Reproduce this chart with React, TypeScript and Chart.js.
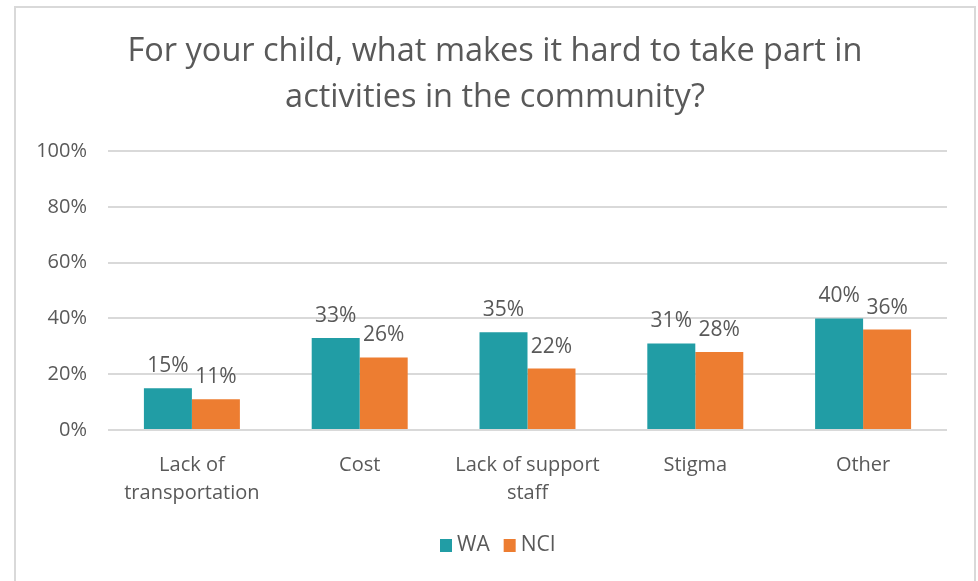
import React, { useEffect, useRef } from "react";
import { Chart, registerables } from "chart.js";

Chart.register(...registerables);

const titleLines = [
  "For your child, what makes it hard to take part in",
  "activities in the community?",
];
const categories = [
  ["Lack of", "transportation"],
  "Cost",
  ["Lack of support", "staff"],
  "Stigma",
  "Other",
];
const seriesNames = ["WA", "NCI"];
const waValues = [15, 33, 35, 31, 40];
const nciValues = [11, 26, 22, 28, 36];
const yMin = 0;
const yMax = 100;
const yStep = 20;

const TEXT = "#595959";
const FONT = "'Open Sans', Lato, sans-serif";
const TEAL = "#219DA5";
const ORANGE = "#ED7D31";

export default function App() {
  const ref = useRef<HTMLCanvasElement>(null);

  useEffect(() => {
    document.body.style.margin = "0";
    const canvas = ref.current;
    if (!canvas) return;

    const decor = {
      id: "decor",
      beforeDraw(chart: any) {
        const ctx = chart.ctx;
        ctx.save();
        ctx.fillStyle = "#ffffff";
        ctx.fillRect(0, 0, chart.width, chart.height);
        ctx.strokeStyle = "#d9d9d9";
        ctx.lineWidth = 2;
        ctx.strokeRect(15, 7, 960, 640);
        ctx.fillStyle = TEXT;
        ctx.font = `32.5px ${FONT}`;
        ctx.textAlign = "center";
        ctx.textBaseline = "alphabetic";
        ctx.fillText(titleLines[0], 495, 61);
        ctx.fillText(titleLines[1], 495, 107);
        ctx.restore();
      },
      afterDatasetsDraw(chart: any) {
        const ctx = chart.ctx;
        ctx.save();
        ctx.fillStyle = TEXT;
        ctx.font = `21px ${FONT}`;
        ctx.textAlign = "center";
        ctx.textBaseline = "middle";
        chart.data.datasets.forEach((ds: any, di: number) => {
          const meta = chart.getDatasetMeta(di);
          meta.data.forEach((el: any, i: number) => {
            ctx.fillText(`${ds.data[i]}%`, el.x, el.y - 22);
          });
        });
        // legend
        let x = 440;
        const yc = 545.5;
        ctx.font = `21px ${FONT}`;
        chart.data.datasets.forEach((ds: any) => {
          ctx.fillStyle = ds.backgroundColor;
          ctx.fillRect(x, yc - 6.5, 12, 13);
          x += 12 + 5;
          ctx.fillStyle = TEXT;
          ctx.textAlign = "left";
          ctx.fillText(ds.label, x, yc);
          x += ctx.measureText(ds.label).width + 14;
        });
        ctx.restore();
      },
    };

    const chart = new Chart(canvas, {
      type: "bar",
      data: {
        labels: categories as any,
        datasets: [
          {
            label: seriesNames[0],
            data: waValues,
            backgroundColor: TEAL,
            categoryPercentage: 0.572,
            barPercentage: 1,
          },
          {
            label: seriesNames[1],
            data: nciValues,
            backgroundColor: ORANGE,
            categoryPercentage: 0.572,
            barPercentage: 1,
          },
        ],
      },
      options: {
        responsive: false,
        animation: false,
        devicePixelRatio: 1,
        layout: { padding: { top: 151, right: 31, bottom: 56, left: 0 } },
        plugins: {
          title: { display: false },
          tooltip: { enabled: false },
          legend: { display: false },
        },
        scales: {
          x: {
            grid: { display: false },
            border: { display: false },
            ticks: {
              color: TEXT,
              font: { family: FONT, size: 20, lineHeight: 1.4 },
              padding: 13,
              maxRotation: 0,
              autoSkip: false,
            },
            afterFit(scale: any) {
              scale.height = 95;
            },
          },
          y: {
            min: yMin,
            max: yMax,
            border: { display: false },
            grid: { color: "#d9d9d9", lineWidth: 2, drawTicks: false },
            ticks: {
              stepSize: yStep,
              color: TEXT,
              font: { family: FONT, size: 20 },
              padding: 21,
              callback: (v: any) => `${v}%`,
            },
            afterFit(scale: any) {
              scale.width = 108;
            },
          },
        },
      },
      plugins: [decor],
    });

    return () => chart.destroy();
  }, []);

  return (
    <div style={{ width: 978, height: 581 }}>
      <canvas ref={ref} width={978} height={581} />
    </div>
  );
}
